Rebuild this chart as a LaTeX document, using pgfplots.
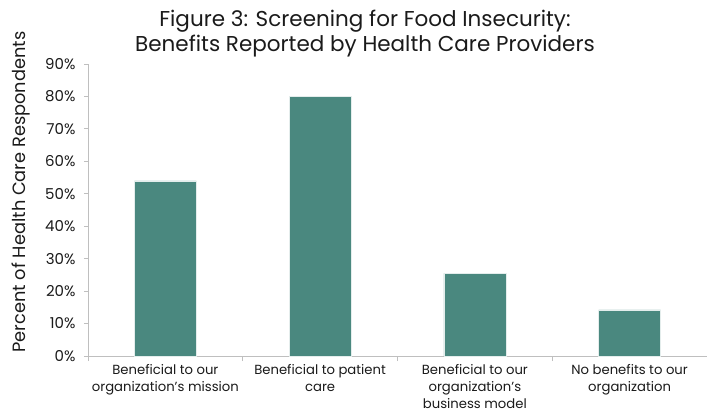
\documentclass[border=0pt]{standalone}
\usepackage{pgfplots}
\pgfplotsset{compat=1.18}
\usepackage{fontspec}
\setmainfont{Poppins}
\definecolor{barteal}{HTML}{4A887F}
\definecolor{axgray}{HTML}{BFBFBF}
\definecolor{txt}{HTML}{1A1A1A}

\begin{document}
\begin{tikzpicture}
\path[use as bounding box] (-88pt,-59pt) rectangle (619pt,356pt);
\begin{axis}[
    scale only axis,
    width=619pt, height=292pt,
    at={(0pt,0pt)}, anchor=south west,
    xmin=-0.5, xmax=3.5,
    ymin=0, ymax=90,
    ytick={0,10,...,90},
    yticklabel={\pgfmathprintnumber{\tick}\%},
    /pgf/number format/assume math mode=true,
    xtick={0,1,2,3},
    xticklabels={
      {Beneficial to our\\organization's mission},
      {Beneficial to patient\\care},
      {Beneficial to our\\organization's\\business model},
      {No benefits to our\\organization}},
    xticklabel style={align=center, font=\fontsize{13.2}{17}\selectfont, text=txt, yshift=-1pt},
    yticklabel style={font=\fontsize{15}{17}\selectfont, text=txt, xshift=-5pt},
    major x tick style={draw=none},
    minor xtick={-0.5,0.5,1.5,2.5,3.5},
    minor x tick style={axgray, line width=0.8pt},
    minor tick length=5pt,
    major tick length=4pt,
    y tick style={axgray, line width=0.8pt},
    tick align=outside,
    axis x line*=bottom, axis y line*=left,
    axis line style={axgray, line width=0.8pt, -},
    ybar, bar width=0.4,
    clip=false,
]
\addplot[fill=barteal, draw=white!85!barteal, line width=0.5pt]
  coordinates {(0,54) (1,80) (2,25.5) (3,14.2)};
\node[rotate=90, font=\fontsize{17.8}{20}\selectfont, text=txt] at (-67pt,164pt)
  {Percent of Health Care Respondents};
\node[align=center, font=\fontsize{21.5}{25}\selectfont, text=txt] at (277pt,322pt)
  {Figure 3: Screening for Food Insecurity:\\Benefits Reported by Health Care Providers};
\end{axis}
\end{tikzpicture}
\end{document}
